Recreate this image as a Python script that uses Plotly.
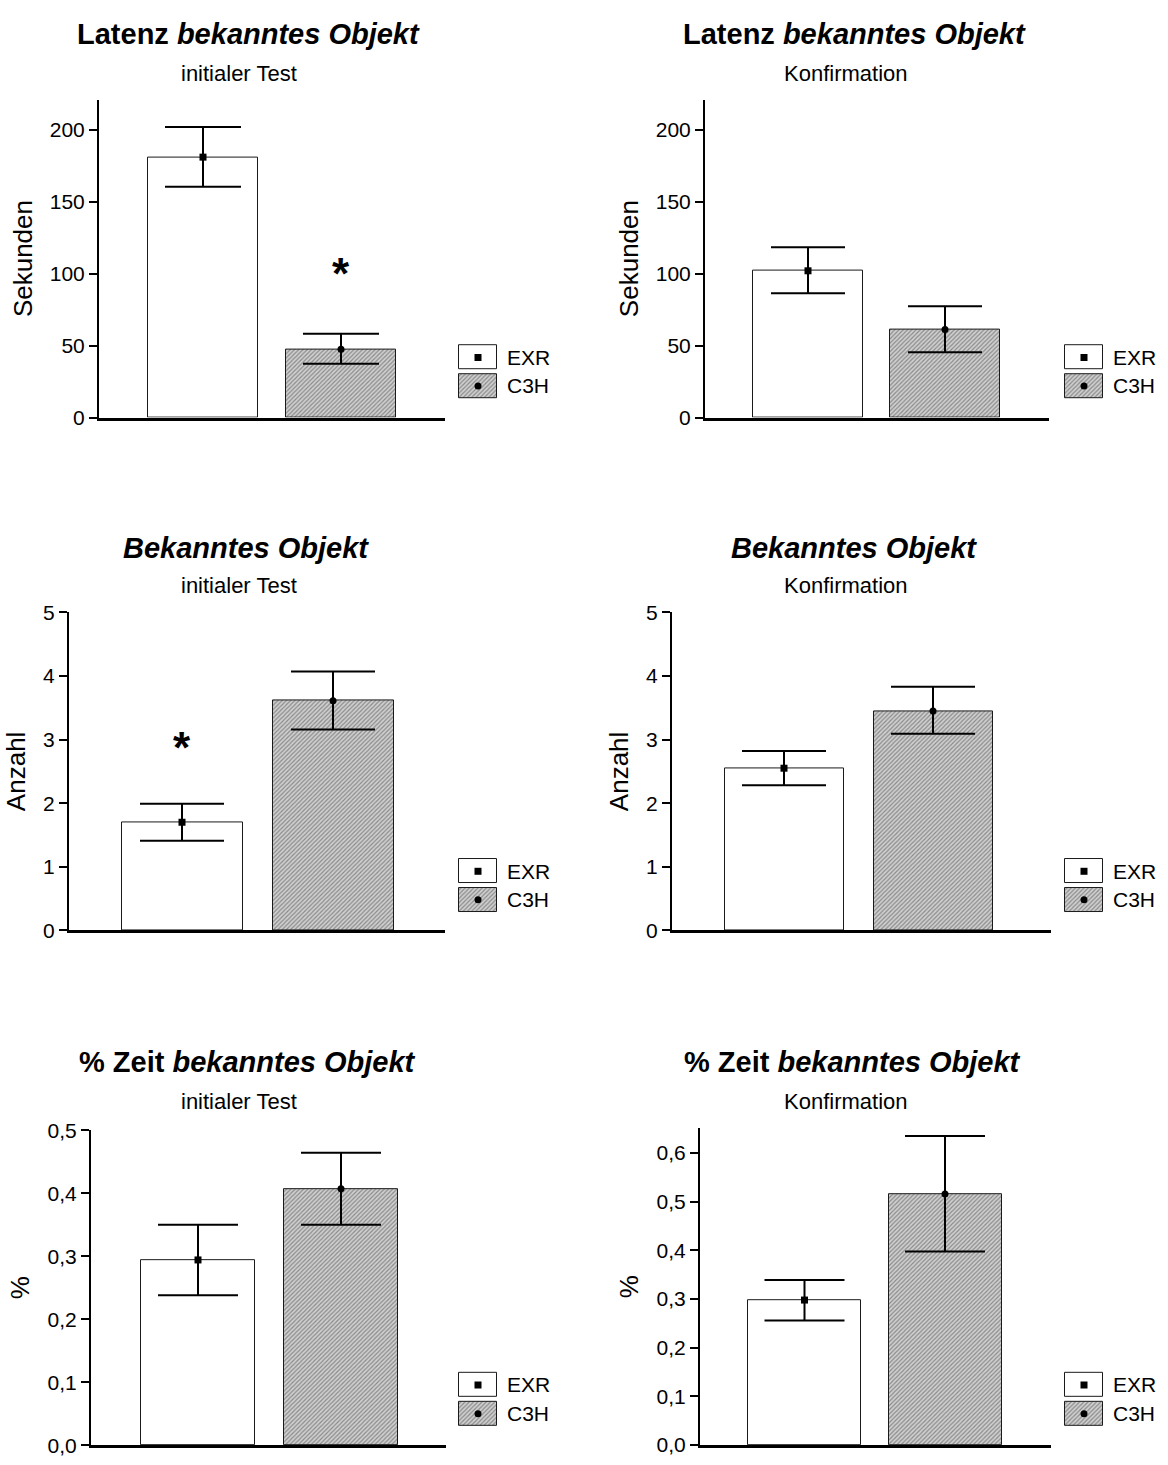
import plotly.graph_objects as go

W, H = 1168, 1465

groups = ["EXR", "C3H"]

# Latenz bis zum bekannten Objekt (Sekunden): Mittelwert, obere / untere Fehlergrenze
lat_init_mean = [181.0, 47.5]
lat_init_upper = [202.0, 58.3]
lat_init_lower = [160.4, 37.3]

lat_conf_mean = [102.0, 61.2]
lat_conf_upper = [118.4, 77.4]
lat_conf_lower = [86.4, 45.4]

# Anzahl Besuche am bekannten Objekt
cnt_init_mean = [1.70, 3.61]
cnt_init_upper = [1.99, 4.07]
cnt_init_lower = [1.41, 3.16]

cnt_conf_mean = [2.55, 3.45]
cnt_conf_upper = [2.82, 3.83]
cnt_conf_lower = [2.28, 3.09]

# Anteil Zeit am bekannten Objekt
pct_init_mean = [0.294, 0.407]
pct_init_upper = [0.350, 0.464]
pct_init_lower = [0.238, 0.350]

pct_conf_mean = [0.298, 0.516]
pct_conf_upper = [0.339, 0.635]
pct_conf_lower = [0.256, 0.398]

# Signifikanz-Sterne: (Gruppe, Höhe)
star_lat_init = ("C3H", 102.0)
star_cnt_init = ("EXR", 2.93)

TITLE_LAT = "<b>Latenz <i>bekanntes Objekt</i></b>"
TITLE_CNT = "<b><i>Bekanntes Objekt</i></b>"
TITLE_PCT = "<b>% Zeit <i>bekanntes Objekt</i></b>"
SUB_INIT = "initialer Test"
SUB_CONF = "Konfirmation"

FONT = "Liberation Sans, Arial, sans-serif"

# pixel geometry of each panel
panels = [
    dict(mean=lat_init_mean, up=lat_init_upper, lo=lat_init_lower,
         title=TITLE_LAT, sub=SUB_INIT, ytitle="Sekunden",
         yr=[0, 221], dtick=50, fmt="d", star=star_lat_init,
         ax=(99, 445), py=(89, 412), cen=(203, 341), bw=110, cap=38,
         leg=(458, 498, 336.5, 394.5), tx=248, ty=22, sx=239, sy=62),
    dict(mean=lat_conf_mean, up=lat_conf_upper, lo=lat_conf_lower,
         title=TITLE_LAT, sub=SUB_CONF, ytitle="Sekunden",
         yr=[0, 221], dtick=50, fmt="d", star=None,
         ax=(705, 1049), py=(89, 412), cen=(808, 945), bw=110, cap=37,
         leg=(1064, 1104, 336.5, 394.5), tx=854, ty=22, sx=846, sy=62),
    dict(mean=cnt_init_mean, up=cnt_init_upper, lo=cnt_init_lower,
         title=TITLE_CNT, sub=SUB_INIT, ytitle="Anzahl",
         yr=[0, 5], dtick=1, fmt="d", star=star_cnt_init,
         ax=(69, 445), py=(610, 933), cen=(182, 333), bw=121, cap=42,
         leg=(458, 498, 858.5, 916.5), tx=246, ty=545, sx=239, sy=583),
    dict(mean=cnt_conf_mean, up=cnt_conf_upper, lo=cnt_conf_lower,
         title=TITLE_CNT, sub=SUB_CONF, ytitle="Anzahl",
         yr=[0, 5], dtick=1, fmt="d", star=None,
         ax=(672, 1051), py=(610, 933), cen=(784, 933), bw=119, cap=42,
         leg=(1064, 1104, 858.5, 916.5), tx=854, ty=545, sx=846, sy=583),
    dict(mean=pct_init_mean, up=pct_init_upper, lo=pct_init_lower,
         title=TITLE_PCT, sub=SUB_INIT, ytitle="%",
         yr=[0, 0.5], dtick=0.1, fmt=".1f", star=None,
         ax=(91, 446), py=(1136, 1456), cen=(198, 341), bw=114, cap=40,
         leg=(458, 498, 1380.5, 1438.5), tx=247, ty=1067, sx=239, sy=1107),
    dict(mean=pct_conf_mean, up=pct_conf_upper, lo=pct_conf_lower,
         title=TITLE_PCT, sub=SUB_CONF, ytitle="%",
         yr=[0, 0.651], dtick=0.1, fmt=".1f", star=None,
         ax=(700, 1051), py=(1134, 1456), cen=(804.5, 945), bw=113, cap=40,
         leg=(1064, 1104, 1380.5, 1438.5), tx=852, ty=1067, sx=846, sy=1107),
]

fills = ["white", "#d0d0d0"]
bar_pattern = dict(shape=["", "/"], fgcolor=["white", "#333333"],
                   bgcolor=["white", "#dadada"], size=3, solidity=0.4)
symbols = ["square", "circle"]


def fx(px):
    return px / W


def fy(py):
    return 1 - py / H


fig = go.Figure()
layout = {}
annotations = []

for i, p in enumerate(panels):
    n = 2 * i + 1      # data axes
    m = 2 * i + 2      # legend axes
    c0, c1 = p["cen"]
    step = c1 - c0
    xl, xr = p["ax"]
    top, bot = p["py"]

    fig.add_trace(go.Bar(
        x=groups, y=p["mean"], width=p["bw"] / step,
        marker=dict(color=fills, line=dict(color="#1a1a1a", width=1),
                    pattern=bar_pattern),
        xaxis=f"x{n}", yaxis=f"y{n}", showlegend=False, hoverinfo="skip"))

    fig.add_trace(go.Scatter(
        x=groups, y=p["mean"], mode="markers",
        marker=dict(symbol=symbols, size=7, color="black"),
        error_y=dict(type="data", symmetric=False,
                     array=[u - v for u, v in zip(p["up"], p["mean"])],
                     arrayminus=[v - l for v, l in zip(p["mean"], p["lo"])],
                     color="black", thickness=2, width=p["cap"]),
        cliponaxis=False, xaxis=f"x{n}", yaxis=f"y{n}", showlegend=False))

    layout[f"xaxis{n}"] = dict(
        domain=[fx(xl), fx(xr)], anchor=f"y{n}", type="category",
        range=[(xl - c0) / step, (xr - c0) / step],
        showline=True, linecolor="black", linewidth=2.5,
        showticklabels=False, ticks="", showgrid=False, zeroline=False,
        fixedrange=True)
    layout[f"yaxis{n}"] = dict(
        domain=[fy(bot), fy(top)], anchor=f"x{n}", range=p["yr"],
        dtick=p["dtick"], tick0=0, tickformat=p["fmt"],
        showline=True, linecolor="black", linewidth=2,
        ticks="outside", ticklen=8, tickwidth=2, tickcolor="black",
        tickfont=dict(family=FONT, size=21, color="black"),
        showgrid=False, zeroline=False,
        title=dict(text=p["ytitle"], standoff=10,
                   font=dict(family=FONT, size=26, color="black")))

    # legend: two boxes with the group markers
    lx0, lx1, ly0, ly1 = p["leg"]
    fig.add_trace(go.Bar(
        y=groups, x=[1, 1], orientation="h", width=0.83,
        marker=dict(color=fills, line=dict(color="#1a1a1a", width=1),
                    pattern=bar_pattern),
        xaxis=f"x{m}", yaxis=f"y{m}", showlegend=False, hoverinfo="skip"))
    fig.add_trace(go.Scatter(
        y=groups, x=[0.5, 0.5], mode="markers",
        marker=dict(symbol=symbols, size=7, color="black"),
        xaxis=f"x{m}", yaxis=f"y{m}", showlegend=False, hoverinfo="skip"))
    layout[f"xaxis{m}"] = dict(
        domain=[fx(lx0), fx(lx1)], anchor=f"y{m}", range=[-0.025, 1.025],
        visible=False, fixedrange=True)
    layout[f"yaxis{m}"] = dict(
        domain=[fy(ly1), fy(ly0)], anchor=f"x{m}", type="category",
        autorange="reversed", side="right", showline=False, ticks="",
        showgrid=False, zeroline=False, ticklabelstandoff=8,
        tickfont=dict(family=FONT, size=21, color="black"), fixedrange=True)

    annotations.append(dict(
        text=p["title"], x=fx(p["tx"]), y=fy(p["ty"]), xref="paper",
        yref="paper", xanchor="center", yanchor="middle", showarrow=False,
        font=dict(family=FONT, size=29, color="black")))
    annotations.append(dict(
        text=p["sub"], x=fx(p["sx"]), y=fy(p["sy"]), xref="paper",
        yref="paper", xanchor="center", yanchor="middle", showarrow=False,
        font=dict(family=FONT, size=22, color="black")))
    if p["star"] is not None:
        g, v = p["star"]
        annotations.append(dict(
            text="<b>*</b>", x=g, y=v, xref=f"x{n}", yref=f"y{n}",
            xanchor="center", yanchor="middle", yshift=-3, showarrow=False,
            font=dict(family=FONT, size=44, color="black")))

fig.update_layout(
    width=W, height=H, margin=dict(l=0, r=0, t=0, b=0),
    paper_bgcolor="white", plot_bgcolor="white",
    separators=",.", bargap=0, showlegend=False,
    annotations=annotations, **layout)

fig.write_html("out.html",
               post_script="document.body.style.margin = '0';")
